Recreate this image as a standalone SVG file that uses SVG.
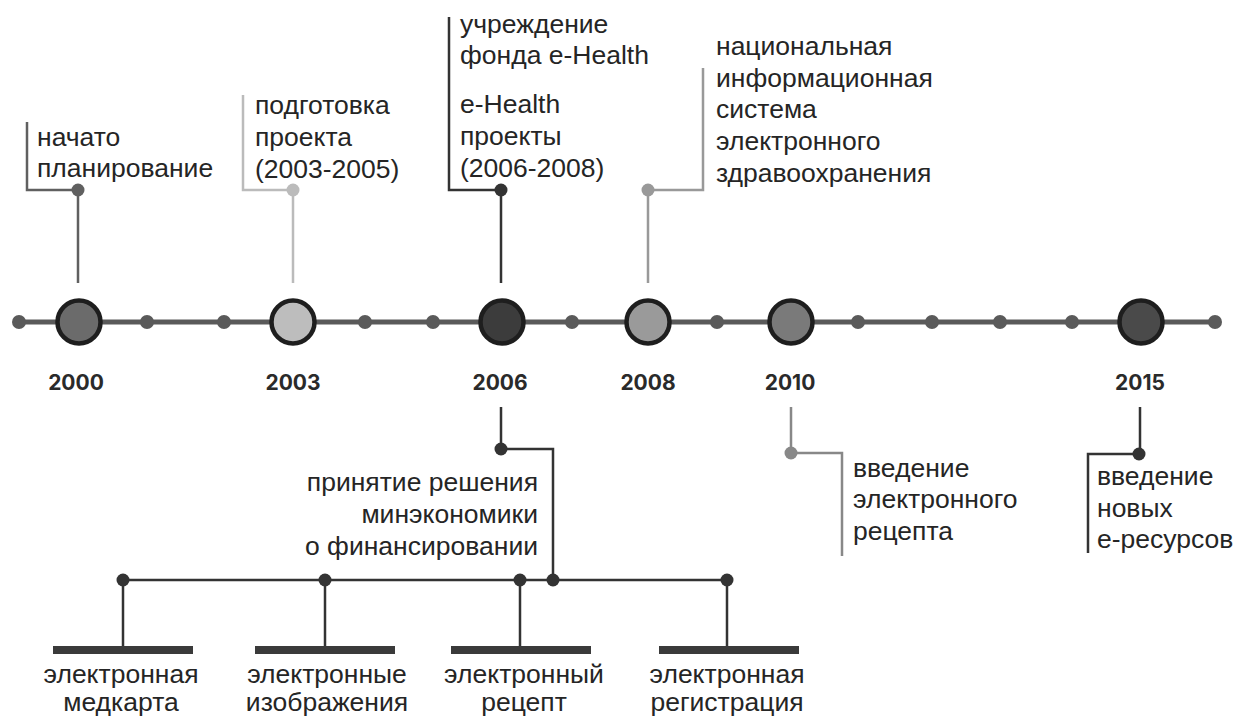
<svg xmlns="http://www.w3.org/2000/svg" width="1236" height="717" viewBox="0 0 1236 717">
<style>
.t{font-family:"Liberation Sans",Arial,sans-serif;font-size:26.5px;fill:#252525}
.r{text-anchor:end}
.c{text-anchor:middle}
.y{font-family:Inter,"DejaVu Sans",sans-serif;font-weight:700;font-size:21px;fill:#2a2a2a;text-anchor:middle}
.ln{fill:none;stroke-width:2.5}
.big{stroke:#1e1e1e;stroke-width:4.5}
.sd{fill:#5a5a5a}
.bar{fill:#3a3a3a}
</style>
<rect width="1236" height="717" fill="#fff"/>
<g id="connectors">
  <line x1="18" y1="322" x2="1215" y2="322" stroke="#5a5a5a" stroke-width="5"/>
  <polyline class="ln" stroke="#606060" points="78,283 78,190 27,190 27,122"/>
  <polyline class="ln" stroke="#bbbbbb" points="293,283 293,190 243,190 243,95"/>
  <polyline class="ln" stroke="#333333" points="501,283 501,190 449,190 449,17"/>
  <polyline class="ln" stroke="#999999" points="648,283 648,190 703,190 703,68"/>
  <polyline class="ln" stroke="#888888" points="791,407 791,453 842,453 842,556"/>
  <polyline class="ln" stroke="#333333" points="1140,407 1140,454 1088,454 1088,553"/>
  <polyline class="ln" stroke="#333333" points="501,407 501,449 553,449 553,580"/>
  <line class="ln" stroke="#333333" x1="123" y1="580" x2="727" y2="580"/>
  <line class="ln" stroke="#333333" x1="123" y1="580" x2="123" y2="650"/>
  <line class="ln" stroke="#333333" x1="325" y1="580" x2="325" y2="650"/>
  <line class="ln" stroke="#333333" x1="520" y1="580" x2="520" y2="650"/>
  <line class="ln" stroke="#333333" x1="727" y1="580" x2="727" y2="650"/>
</g>
<g id="ticks">
  <circle class="sd" cx="19" cy="322" r="7"/>
  <circle class="sd" cx="147" cy="322" r="7"/>
  <circle class="sd" cx="224" cy="322" r="7"/>
  <circle class="sd" cx="365" cy="322" r="7"/>
  <circle class="sd" cx="433" cy="322" r="7"/>
  <circle class="sd" cx="572" cy="322" r="7"/>
  <circle class="sd" cx="717" cy="322" r="7"/>
  <circle class="sd" cx="858" cy="322" r="7"/>
  <circle class="sd" cx="932" cy="322" r="7"/>
  <circle class="sd" cx="1000" cy="322" r="7"/>
  <circle class="sd" cx="1072" cy="322" r="7"/>
  <circle class="sd" cx="1215" cy="322" r="7"/>
</g>
<g id="y2000">
  <circle class="big" cx="79" cy="322" r="21.5" fill="#6b6b6b"/>
  <text class="y" x="76" y="390">2000</text>
  <circle cx="78" cy="190" r="6.5" fill="#606060"/>
  <text class="t" x="37" y="146">начато</text>
  <text class="t" x="37" y="177">планирование</text>
</g>
<g id="y2003">
  <circle class="big" cx="293" cy="322" r="21.5" fill="#bdbdbd"/>
  <text class="y" x="293" y="390">2003</text>
  <circle cx="293" cy="190" r="6.5" fill="#bbbbbb"/>
  <text class="t" x="255" y="114">подготовка</text>
  <text class="t" x="255" y="146">проекта</text>
  <text class="t" x="255" y="178">(2003-2005)</text>
</g>
<g id="y2006">
  <circle class="big" cx="502" cy="322" r="21.5" fill="#3c3c3c"/>
  <text class="y" x="500" y="390">2006</text>
  <circle cx="501" cy="190" r="6.5" fill="#333333"/>
  <text class="t" x="460" y="33">учреждение</text>
  <text class="t" x="460" y="64">фонда e-Health</text>
  <text class="t" x="460" y="113">e-Health</text>
  <text class="t" x="460" y="145">проекты</text>
  <text class="t" x="460" y="177">(2006-2008)</text>
</g>
<g id="y2008">
  <circle class="big" cx="648" cy="322" r="21.5" fill="#9a9a9a"/>
  <text class="y" x="648" y="390">2008</text>
  <circle cx="648" cy="190" r="6.5" fill="#999999"/>
  <text class="t" x="716" y="55">национальная</text>
  <text class="t" x="716" y="87">информационная</text>
  <text class="t" x="716" y="118">система</text>
  <text class="t" x="716" y="150">электронного</text>
  <text class="t" x="716" y="182">здравоохранения</text>
</g>
<g id="y2010">
  <circle class="big" cx="791" cy="322" r="21.5" fill="#7a7a7a"/>
  <text class="y" x="790" y="390">2010</text>
  <circle cx="791" cy="453" r="6.5" fill="#888888"/>
  <text class="t" x="853" y="477">введение</text>
  <text class="t" x="853" y="508">электронного</text>
  <text class="t" x="853" y="540">рецепта</text>
</g>
<g id="y2015">
  <circle class="big" cx="1141" cy="322" r="21.5" fill="#4a4a4a"/>
  <text class="y" x="1140" y="390">2015</text>
  <circle cx="1139" cy="454" r="6.5" fill="#333333"/>
  <text class="t" x="1097" y="485">введение</text>
  <text class="t" x="1097" y="517">новых</text>
  <text class="t" x="1097" y="548">е-ресурсов</text>
</g>
<g id="decision">
  <circle cx="501" cy="449" r="6.5" fill="#333333"/>
  <circle cx="553" cy="580" r="6.5" fill="#333333"/>
  <text class="t r" x="538" y="491">принятие решения</text>
  <text class="t r" x="538" y="523">минэкономики</text>
  <text class="t r" x="538" y="555">о финансировании</text>
</g>
<g id="medcard">
  <circle cx="123" cy="580" r="6.5" fill="#333333"/>
  <rect class="bar" x="53" y="646" width="140" height="8"/>
  <text class="t c" x="121" y="683">электронная</text>
  <text class="t c" x="121" y="711">медкарта</text>
</g>
<g id="images">
  <circle cx="325" cy="580" r="6.5" fill="#333333"/>
  <rect class="bar" x="255" y="646" width="140" height="8"/>
  <text class="t c" x="327" y="683">электронные</text>
  <text class="t c" x="327" y="711">изображения</text>
</g>
<g id="recipe">
  <circle cx="520" cy="580" r="6.5" fill="#333333"/>
  <rect class="bar" x="451" y="646" width="140" height="8"/>
  <text class="t c" x="524" y="683">электронный</text>
  <text class="t c" x="524" y="711">рецепт</text>
</g>
<g id="registration">
  <circle cx="727" cy="580" r="6.5" fill="#333333"/>
  <rect class="bar" x="659" y="646" width="140" height="8"/>
  <text class="t c" x="727" y="683">электронная</text>
  <text class="t c" x="727" y="711">регистрация</text>
</g>
</svg>
